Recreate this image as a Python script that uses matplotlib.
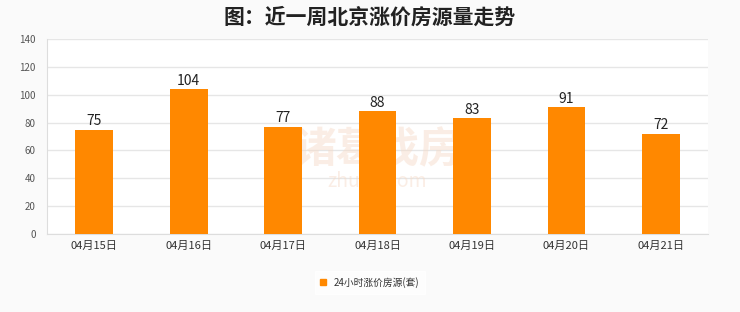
import matplotlib.pyplot as plt
import numpy as np

plt.rcParams['font.family'] = ['Noto Sans CJK SC', 'DejaVu Sans']

# data
dates = ["04月15日", "04月16日", "04月17日", "04月18日", "04月19日", "04月20日", "04月21日"]
counts = [75, 104, 77, 88, 83, 91, 72]
series_name = "24小时涨价房源(套)"

fig = plt.figure(figsize=(7.4, 3.12), dpi=100, facecolor="#fafafa")
ax = fig.add_axes([0.0635, 0.25, 0.8935, 0.625])
ax.set_facecolor("white")

x = np.arange(len(dates))
bars = ax.bar(x, counts, width=0.4, color="#ff8800", label=series_name, zorder=3)
for xi, v in zip(x, counts):
    ax.text(xi, v + 1, str(v), ha="center", va="bottom", fontsize=10, color="#222222", zorder=4)

ax.set_xlim(-0.5, len(dates) - 0.5)
ax.set_ylim(0, 140)
ax.set_yticks(range(0, 141, 20))
ax.set_xticks(x)
ax.set_xticklabels(dates)
ax.tick_params(axis="y", labelsize=7, colors="#555555", length=0, pad=8)
ax.tick_params(axis="x", labelsize=8, colors="#333333", length=0, pad=5)
ax.grid(axis="y", color="#e6e6e6", linewidth=1, zorder=0)
for s in ["top", "right"]:
    ax.spines[s].set_visible(False)
ax.spines["left"].set_color("#dddddd")
ax.spines["bottom"].set_color("#dddddd")

# watermark
ax.text(0.5, 0.43, "诸葛找房", transform=ax.transAxes, ha="center", va="center",
        fontsize=30, color="#f6d9c6", alpha=0.45, zorder=2, fontweight="bold")
ax.text(0.5, 0.27, "zhuge.com", transform=ax.transAxes, ha="center", va="center",
        fontsize=14, color="#f6d9c6", alpha=0.45, zorder=2)

fig.suptitle("图：近一周北京涨价房源量走势", x=0.5, y=0.98, fontsize=15,
             fontweight="bold", color="#222222")

leg = fig.legend(handles=[plt.Rectangle((0, 0), 1, 1, color="#ff8800")],
                 labels=[series_name], loc="center", bbox_to_anchor=(0.5, 0.095),
                 frameon=True, fontsize=7, handlelength=0.6, handleheight=0.6,
                 borderpad=0.6, facecolor="white", edgecolor="white", fancybox=False)
for t in leg.get_texts():
    t.set_color("#333333")

fig.savefig("out.png", dpi=100, facecolor=fig.get_facecolor())
